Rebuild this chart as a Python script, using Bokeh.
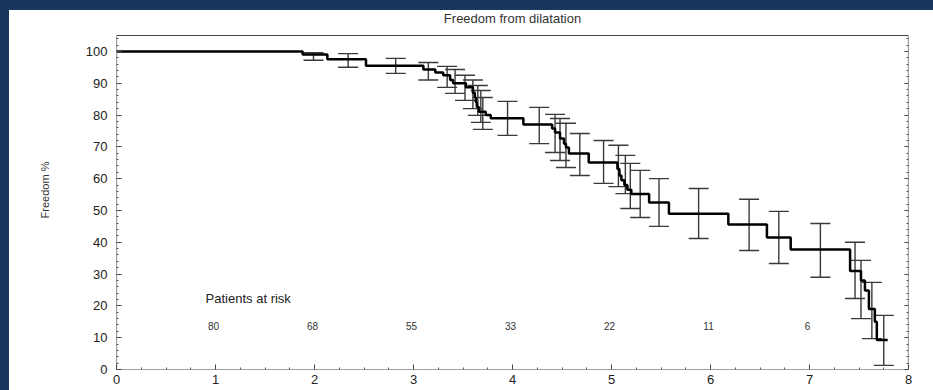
from bokeh.plotting import figure
from bokeh.embed import file_html
from bokeh.resources import INLINE
from bokeh.models import (Range1d, SingleIntervalTicker, FixedTicker, LinearAxis, Whisker,
                          TeeHead, ColumnDataSource)
from bokeh.core.properties import value

# ---- data ----
step_t = [0, 1.88, 2.13, 2.52, 3.10, 3.22, 3.30, 3.37, 3.40, 3.53, 3.60, 3.62, 3.63, 3.64,
          3.66, 3.73, 3.78, 4.11, 4.40, 4.43, 4.48, 4.52, 4.54, 4.57, 4.77, 5.06, 5.08,
          5.10, 5.13, 5.16, 5.20, 5.38, 5.58, 6.18, 6.57, 6.81, 7.41, 7.52, 7.56, 7.60,
          7.66, 7.68, 7.79]
step_s = [100, 99, 97.5, 95.5, 94.3, 93.4, 92.5, 91, 90, 88.7, 87, 85.5, 84, 82.5,
          81, 80, 79, 77, 75.8, 74.5, 72.6, 71, 69.8, 67.9, 65.1, 63, 61,
          59.5, 58, 56.5, 55.2, 52.5, 49, 45.6, 41.5, 37.7, 31, 28, 24.8, 19,
          15, 9.3, 9.3]

err_t = [1.99, 2.34, 2.82, 3.15, 3.34, 3.42, 3.52, 3.60, 3.65, 3.68, 3.70, 3.95, 4.27,
         4.43, 4.48, 4.54, 4.68, 4.92, 5.07, 5.14, 5.19, 5.29, 5.48, 5.88, 6.39, 6.69,
         7.11, 7.46, 7.52, 7.63, 7.75]
err_lo = [97.2, 95, 93.1, 91, 88.7, 86.8, 84.6, 82, 79.9, 77.7, 75.5, 73.6, 71,
          68.2, 65.7, 63.5, 61, 58.5, 57.5, 55.3, 50.6, 47.8, 45, 41.2, 37.4, 33.3,
          29, 22.3, 16, 9.7, 1.3]
err_hi = [99.6, 99.3, 97.8, 96.5, 95.3, 94.3, 92.5, 91, 89.3, 87.7, 85.5, 84.3, 82.4,
          80.2, 78.9, 77.4, 74.2, 72, 70.5, 67.3, 64.8, 62.6, 60, 56.9, 53.5, 49.7,
          45.9, 40, 34.3, 27.4, 17]

y_ticks = [0, 10, 20, 30, 40, 50, 60, 70, 80, 90, 100]
y_minor = [0, 2, 4, 6, 8, 10, 12, 14, 16, 18, 20, 22, 24, 26, 28, 30, 32, 34, 36, 38, 40,
           42, 44, 46, 48, 50, 52, 54, 56, 58, 60, 62, 64, 66, 68, 70, 72, 74, 76, 78, 80,
           82, 84, 86, 88, 90, 92, 94, 96, 98, 100, 102, 104]
x_min, x_max = 0, 8
y_top = 105

risk_years = [1, 2, 3, 4, 5, 6, 7]
risk_counts = ["80", "68", "55", "33", "22", "11", "6"]

title_text = "Freedom from dilatation"

FONT = "Liberation Sans"
NAVY = "#17375E"
FRAME = "#444444"

# the plotting area reaches up to the page's blue band so the title can sit above the box
p = figure(width=924, height=380, x_range=Range1d(x_min, x_max), y_range=Range1d(0, 112.86),
           output_backend="svg", toolbar_location=None,
           min_border_left=107, min_border_right=25, min_border_top=0, min_border_bottom=21)
p.background_fill_color = "white"
p.border_fill_color = "white"
p.outline_line_color = None
p.xgrid.visible = False
p.ygrid.visible = False

# axes
p.yaxis.ticker = FixedTicker(ticks=y_ticks, minor_ticks=y_minor)
p.yaxis.bounds = (0, y_top)
p.xaxis.ticker = SingleIntervalTicker(interval=1, num_minor_ticks=4)
for ax in (p.xaxis[0], p.yaxis[0]):
    ax.major_tick_in = 5
    ax.major_tick_out = 0
    ax.minor_tick_in = 2
    ax.minor_tick_out = 0
    ax.axis_line_color = None
    ax.major_tick_line_color = FRAME
    ax.minor_tick_line_color = "#555555"
    ax.major_label_text_font = FONT
    ax.major_label_text_font_size = "13px"
    ax.major_label_text_color = "#222222"
p.yaxis.major_label_standoff = 9
p.xaxis.major_label_standoff = 5
p.yaxis.axis_label = "Freedom %"
p.yaxis.axis_label_text_font = FONT
p.yaxis.axis_label_text_font_size = "11px"
p.yaxis.axis_label_text_font_style = "normal"
p.yaxis.axis_label_text_color = "#333333"
p.yaxis.axis_label_standoff = 32

ra = LinearAxis(ticker=FixedTicker(ticks=y_ticks, minor_ticks=y_minor), bounds=(0, y_top),
                major_label_text_color=None, major_tick_in=4, major_tick_out=0,
                minor_tick_in=2, minor_tick_out=0, axis_line_color=None,
                major_tick_line_color=FRAME, minor_tick_line_color="#555555",
                major_label_standoff=0)
p.add_layout(ra, "right")

# the box around the chart
p.quad(left=[x_min], right=[x_max], bottom=[0], top=[y_top], fill_color=None,
       line_color=FRAME, line_width=1.2)

# error bars
esrc = ColumnDataSource(dict(t=err_t, lo=err_lo, hi=err_hi))
wh = Whisker(base="t", lower="lo", upper="hi", source=esrc, dimension="height",
             line_color="#3a3a3a", line_width=1.4,
             upper_head=TeeHead(size=20, line_color="#3a3a3a", line_width=1.4),
             lower_head=TeeHead(size=20, line_color="#3a3a3a", line_width=1.4))
p.add_layout(wh)

# KM curve
p.step(step_t, step_s, mode="after", line_color="black", line_width=2.5)

# title
p.text(x=[(x_min + x_max) / 2], y=[110.3], text=[title_text], text_font=value(FONT),
       text_font_size="13px", text_baseline="middle", text_align="center",
       text_color="#333333")

# patients at risk
p.text(x=[0.9], y=[22.3], text=["Patients at risk"], text_font=value(FONT),
       text_font_size="13px", text_baseline="middle", text_align="left", text_color="#222222")
p.text(x=[r - 0.02 for r in risk_years], y=[13.8] * len(risk_years), text=risk_counts,
       text_font=value(FONT), text_font_size="10px", text_baseline="middle",
       text_align="center", text_color="#333333")

html = file_html(p, INLINE)
style = ("<style>html { background-color: white !important; } "
         "body { background-color: white !important; margin: 0 !important; padding: 0 !important; "
         "border-top: 10px solid %s !important; border-left: 9px solid %s !important; }</style>"
         % (NAVY, NAVY))
html = html.replace("</head>", style + "</head>", 1)
open("out.html", "w").write(html)
